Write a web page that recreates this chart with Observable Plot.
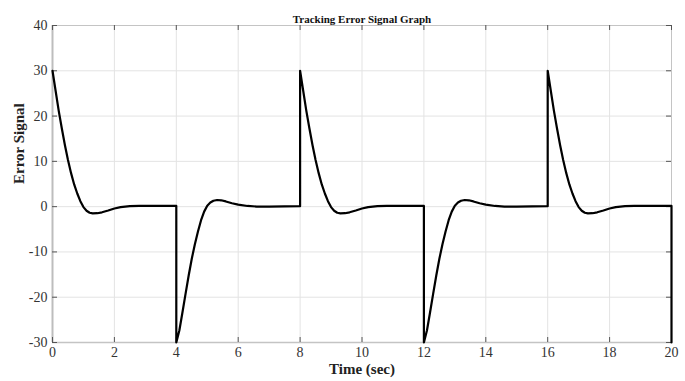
<!DOCTYPE html>
<html>
<head>
<meta charset="utf-8">
<script src="https://cdn.jsdelivr.net/npm/d3@7"></script>
<script src="https://cdn.jsdelivr.net/npm/@observablehq/plot@0.6"></script>
<style>
  html, body { margin: 0; padding: 0; background: #fff; }
</style>
</head>
<body>
<div id="chart"></div>
<script>
// ---- data ----
const chartTitle = "Tracking Error Signal Graph";
const xLabel = "Time (sec)";
const yLabel = "Error Signal";
const xTicks = [0, 2, 4, 6, 8, 10, 12, 14, 16, 18, 20];
const yTicks = [-30, -20, -10, 0, 10, 20, 30, 40];

// response after a positive step (time offset within the 4 s segment, value)
const shapeA_t = [0, 0.1, 0.2, 0.3, 0.4, 0.5, 0.6, 0.7, 0.8, 0.9, 1.0, 1.1, 1.2, 1.3, 1.45, 1.6, 1.8, 2.0, 2.2, 2.5, 2.8, 3.2, 4.0];
const shapeA_y = [30, 25.6, 21.2, 17.3, 13.6, 10.3, 7.4, 4.9, 2.9, 1.2, -0.1, -0.9, -1.35, -1.5, -1.45, -1.25, -0.85, -0.4, -0.1, 0.1, 0.15, 0.15, 0.15];
// response after a negative step
const shapeB_t = [0, 0.1, 0.19, 0.3, 0.4, 0.5, 0.6, 0.7, 0.8, 0.9, 1.0, 1.1, 1.2, 1.32, 1.45, 1.6, 1.8, 2.0, 2.3, 2.6, 3.0, 3.5, 4.0];
const shapeB_y = [-30, -27.3, -23.7, -19.2, -15.2, -11.5, -8.3, -5.5, -3.0, -1.1, 0.2, 0.9, 1.3, 1.47, 1.4, 1.15, 0.75, 0.45, 0.15, 0.02, 0.0, 0.05, 0.1];

const segStart = [0, 4, 8, 12, 16];
const segShape = ["A", "B", "A", "B", "A"];
const finalPoint = {t: 20, y: -30};

// ---- build table ----
const data = [];
segStart.forEach((s, k) => {
  const ts = segShape[k] === "A" ? shapeA_t : shapeB_t;
  const ys = segShape[k] === "A" ? shapeA_y : shapeB_y;
  ts.forEach((t, i) => data.push({t: s + t, y: ys[i]}));
});
data.push(finalPoint);

const W = 685, H = 381;
const mTop = 25, mBottom = 39, mLeft = 52, mRight = 14;
const innerW = W - mLeft - mRight, innerH = H - mTop - mBottom;
const tickLen = 5;
const tickColor = "#555";
const fmt = d => String(d);

const chart = Plot.plot({
  width: W,
  height: H,
  marginTop: mTop,
  marginBottom: mBottom,
  marginLeft: mLeft,
  marginRight: mRight,
  style: {fontFamily: "'Liberation Serif', 'Times New Roman', serif", background: "#fff"},
  x: {domain: [0, 20]},
  y: {domain: [-30, 40]},
  marks: [
    Plot.gridX(xTicks, {stroke: "#e3e3e3", strokeOpacity: 1}),
    Plot.gridY(yTicks, {stroke: "#e3e3e3", strokeOpacity: 1}),
    Plot.frame({stroke: "#c4c4c4"}),
    Plot.ruleX([0], {stroke: "#bdbdbd", strokeWidth: 2}),
    Plot.ruleY([-30], {stroke: "#c4c4c4", strokeWidth: 1.5}),
    // inward tick marks
    Plot.tickX(xTicks, {x: d => d, insetTop: innerH - tickLen, stroke: tickColor}),
    Plot.tickX(xTicks, {x: d => d, insetBottom: innerH - tickLen, stroke: tickColor}),
    Plot.tickY(yTicks, {y: d => d, insetRight: innerW - tickLen, stroke: tickColor}),
    Plot.tickY(yTicks, {y: d => d, insetLeft: innerW - tickLen, stroke: tickColor}),
    Plot.axisX(xTicks, {tickSize: 0, tickPadding: 5, fontSize: 14, fill: "#333", label: null, tickFormat: fmt}),
    Plot.axisY(yTicks, {tickSize: 0, tickPadding: 5, fontSize: 14, fill: "#333", label: null, tickFormat: fmt}),
    Plot.line(data, {x: "t", y: "y", stroke: "#000", strokeWidth: 2.2, strokeLinejoin: "round"}),
    Plot.text([chartTitle], {text: d => d, frameAnchor: "top", dy: -10, fontSize: 11, fontWeight: "bold", fill: "#111"}),
    Plot.text([xLabel], {text: d => d, frameAnchor: "bottom", dy: 31, fontSize: 15, fontWeight: "bold", fill: "#222"}),
    Plot.text([yLabel], {text: d => d, frameAnchor: "left", dx: -33, rotate: -90, fontSize: 15, fontWeight: "bold", fill: "#222"})
  ]
});
document.getElementById("chart").appendChild(chart);
</script>
</body>
</html>
